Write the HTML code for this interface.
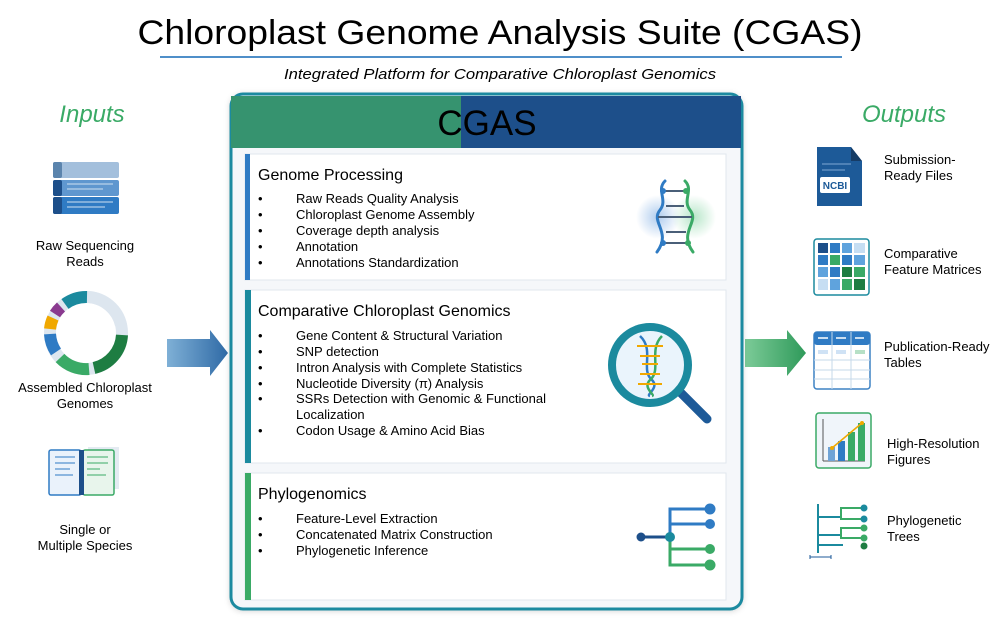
<!DOCTYPE html>
<html><head><meta charset="utf-8"><style>
html,body{margin:0;padding:0;background:#fff;}
svg{display:block;font-family:"Liberation Sans",Arial,sans-serif;}
</style></head><body>
<svg width="1000" height="625" viewBox="0 0 1000 625" xmlns="http://www.w3.org/2000/svg">
<defs>
<linearGradient id="ga" x1="0" x2="1"><stop offset="0" stop-color="#7fb0d6"/><stop offset="1" stop-color="#2f6aa6"/></linearGradient>
<linearGradient id="gb" x1="0" x2="1"><stop offset="0" stop-color="#7ccb98"/><stop offset="1" stop-color="#2f9a5a"/></linearGradient>
<radialGradient id="glowb"><stop offset="0" stop-color="#9cc0ea" stop-opacity=".8"/><stop offset="1" stop-color="#9cc0ea" stop-opacity="0"/></radialGradient>
<radialGradient id="glowg"><stop offset="0" stop-color="#a6e0bc" stop-opacity=".8"/><stop offset="1" stop-color="#a6e0bc" stop-opacity="0"/></radialGradient>
<filter id="sh" x="-5%" y="-5%" width="110%" height="110%"><feDropShadow dx="0" dy="1" stdDeviation="3" flood-color="#000" flood-opacity=".15"/></filter>
</defs>
<!-- Title -->
<text x="500" y="44" text-anchor="middle" font-size="34" textLength="725" lengthAdjust="spacingAndGlyphs">Chloroplast Genome Analysis Suite (CGAS)</text>
<rect x="160" y="56" width="682" height="2" fill="#4f8fc9"/>
<text x="500" y="79" text-anchor="middle" font-size="15" font-style="italic" textLength="432" lengthAdjust="spacingAndGlyphs">Integrated Platform for Comparative Chloroplast Genomics</text>

<!-- Inputs -->
<text x="92" y="122" text-anchor="middle" font-size="24" font-style="italic" fill="#3aaa66">Inputs</text>
<rect x="53" y="162" width="66" height="16" rx="2" fill="#a3bfdc"/><rect x="53" y="162" width="9" height="16" rx="2" fill="#5b84ad"/>
<rect x="53" y="180" width="66" height="16" rx="2" fill="#5f97cf"/><rect x="53" y="180" width="9" height="16" rx="2" fill="#1d4f8a"/>
<line x1="67" y1="184" x2="113" y2="184" stroke="#cfe0f2"/><line x1="67" y1="189" x2="103" y2="189" stroke="#cfe0f2"/>
<rect x="53" y="197" width="66" height="17" rx="2" fill="#2f7bc4"/><rect x="53" y="197" width="9" height="17" rx="2" fill="#1d4f8a"/>
<line x1="67" y1="202" x2="113" y2="202" stroke="#cfe0f2"/><line x1="67" y1="207" x2="105" y2="207" stroke="#cfe0f2"/>
<text x="85" y="250" text-anchor="middle" font-size="13">Raw Sequencing</text>
<text x="85" y="266" text-anchor="middle" font-size="13">Reads</text>
<!-- donut -->
<g transform="translate(86,333)" fill="none" stroke-width="12">
<circle r="36" stroke="#dde6ef"/>
<path d="M3 -36 A36 36 0 0 1 35 -8" stroke="#dde6ef"/>
<path d="M36 2 A36 36 0 0 1 8 35" stroke="#1e7d42"/>
<path d="M3 36 A36 36 0 0 1 -26 25" stroke="#3aaa66"/>
<path d="M-30 19 A36 36 0 0 1 -36 1" stroke="#2f7bc4"/>
<path d="M-36 -4 A36 36 0 0 1 -33 -15" stroke="#f0a800"/>
<path d="M-31 -19 A36 36 0 0 1 -25 -26" stroke="#8a3a8f"/>
<path d="M-21 -29 A36 36 0 0 1 1 -36" stroke="#1b8a9e"/>
</g>
<text x="85" y="392" text-anchor="middle" font-size="13">Assembled Chloroplast</text>
<text x="85" y="408" text-anchor="middle" font-size="13">Genomes</text>
<!-- book -->
<rect x="88" y="447" width="31" height="42" fill="#e4ebf2"/>
<rect x="49" y="450" width="32" height="45" rx="2" fill="#eaf2fb" stroke="#2f7bc4" stroke-width="1.5"/>
<rect x="83" y="450" width="31" height="45" rx="2" fill="#e8f5ec" stroke="#3aaa66" stroke-width="1.5"/>
<rect x="79" y="450" width="5" height="45" fill="#1d4f8a"/>
<g stroke="#2f7bc4"><line x1="55" y1="457" x2="75" y2="457"/><line x1="55" y1="463" x2="75" y2="463"/><line x1="55" y1="469" x2="70" y2="469"/><line x1="55" y1="475" x2="73" y2="475"/></g>
<g stroke="#3aaa66"><line x1="87" y1="457" x2="108" y2="457"/><line x1="87" y1="463" x2="108" y2="463"/><line x1="87" y1="469" x2="100" y2="469"/><line x1="87" y1="475" x2="106" y2="475"/></g>
<text x="85" y="534" text-anchor="middle" font-size="13">Single or</text>
<text x="85" y="550" text-anchor="middle" font-size="13">Multiple Species</text>

<!-- arrows -->
<path d="M167 339 H210 V330 L228 353 L210 376 V367 H167 Z" fill="url(#ga)"/>
<path d="M745 339 H787 V330 L806 353 L787 376 V367 H745 Z" fill="url(#gb)"/>

<!-- Main box -->
<rect x="231" y="94" width="511" height="515" rx="12" fill="#f5f7fa" stroke="#1a8aa0" stroke-width="3" filter="url(#sh)"/>
<rect x="231" y="96" width="230" height="52" fill="#36936f"/>
<rect x="461" y="96" width="280" height="52" fill="#1d4f8a"/>
<text x="487" y="135" text-anchor="middle" font-size="35">CGAS</text>

<!-- Panel 1 -->
<rect x="245" y="154" width="481" height="126" fill="#fff" stroke="#e1e7ee"/>
<rect x="245" y="154" width="5" height="126" fill="#2f7bc4"/>
<text x="258" y="180" font-size="16">Genome Processing</text>
<g font-size="13">
<text x="258" y="203">•</text><text x="296" y="203">Raw Reads Quality Analysis</text>
<text x="258" y="219">•</text><text x="296" y="219">Chloroplast Genome Assembly</text>
<text x="258" y="235">•</text><text x="296" y="235">Coverage depth analysis</text>
<text x="258" y="251">•</text><text x="296" y="251">Annotation</text>
<text x="258" y="267">•</text><text x="296" y="267">Annotations Standardization</text>
</g>
<circle cx="658" cy="217" r="22" fill="url(#glowb)"/><circle cx="694" cy="217" r="22" fill="url(#glowg)"/>
<g fill="none" stroke-width="3" stroke-linecap="round">
<path d="M665 181 C656 190 668 200 660 210 C650 222 672 232 657 252" stroke="#2f7bc4"/>
<path d="M685 181 C694 190 682 200 690 210 C700 222 678 232 693 252" stroke="#3aaa66"/>
</g>
<g stroke="#4a5f78" stroke-width="2"><line x1="662" y1="191" x2="686" y2="191"/><line x1="666" y1="206" x2="684" y2="206"/><line x1="658" y1="217" x2="692" y2="217"/><line x1="666" y1="232" x2="686" y2="232"/><line x1="662" y1="243" x2="688" y2="243"/></g>
<circle cx="663" cy="191" r="3" fill="#2f7bc4"/><circle cx="686" cy="191" r="3" fill="#3aaa66"/><circle cx="663" cy="243" r="3" fill="#2f7bc4"/><circle cx="688" cy="243" r="3" fill="#3aaa66"/>

<!-- Panel 2 -->
<rect x="245" y="290" width="481" height="173" fill="#fff" stroke="#e1e7ee"/>
<rect x="245" y="290" width="6" height="173" fill="#1b8a9e"/>
<text x="258" y="316" font-size="16">Comparative Chloroplast Genomics</text>
<g font-size="13">
<text x="258" y="340">•</text><text x="296" y="340">Gene Content &amp; Structural Variation</text>
<text x="258" y="356">•</text><text x="296" y="356">SNP detection</text>
<text x="258" y="372">•</text><text x="296" y="372">Intron Analysis with Complete Statistics</text>
<text x="258" y="388">•</text><text x="296" y="388">Nucleotide Diversity (π) Analysis</text>
<text x="258" y="403">•</text><text x="296" y="403">SSRs Detection with Genomic &amp; Functional</text>
<text x="296" y="419">Localization</text>
<text x="258" y="435">•</text><text x="296" y="435">Codon Usage &amp; Amino Acid Bias</text>
</g>
<line x1="680" y1="392" x2="707" y2="419" stroke="#1d5a98" stroke-width="9" stroke-linecap="round"/>
<circle cx="650" cy="365" r="38" fill="#eaf4fc" stroke="#1b8a9e" stroke-width="8"/>
<g fill="none" stroke-width="2.5"><path d="M640 336 C655 350 640 370 652 380 C660 388 645 395 650 396" stroke="#2f7bc4"/><path d="M662 336 C648 350 662 370 650 380 C642 388 656 395 652 396" stroke="#3aaa66"/></g>
<g stroke="#f0a800" stroke-width="2"><line x1="637" y1="346" x2="663" y2="346"/><line x1="640" y1="356" x2="660" y2="356"/><line x1="642" y1="364" x2="658" y2="364"/><line x1="640" y1="374" x2="660" y2="374"/><line x1="638" y1="384" x2="662" y2="384"/></g>

<!-- Panel 3 -->
<rect x="245" y="473" width="481" height="127" fill="#fff" stroke="#e1e7ee"/>
<rect x="245" y="473" width="6" height="127" fill="#3aaa66"/>
<text x="258" y="499" font-size="16">Phylogenomics</text>
<g font-size="13">
<text x="258" y="523">•</text><text x="296" y="523">Feature-Level Extraction</text>
<text x="258" y="539">•</text><text x="296" y="539">Concatenated Matrix Construction</text>
<text x="258" y="555">•</text><text x="296" y="555">Phylogenetic Inference</text>
</g>
<g fill="none" stroke-width="3">
<line x1="641" y1="537" x2="670" y2="537" stroke="#1d4f8a"/>
<path d="M710 509 H670 V537" stroke="#2f7bc4"/><line x1="670" y1="524" x2="710" y2="524" stroke="#2f7bc4"/>
<path d="M670 537 V565 H710" stroke="#3aaa66"/><line x1="670" y1="549" x2="710" y2="549" stroke="#3aaa66"/>
</g>
<circle cx="641" cy="537" r="4.5" fill="#1d4f8a"/><circle cx="670" cy="537" r="5" fill="#1b8a9e"/>
<circle cx="710" cy="509" r="5.5" fill="#2f7bc4"/><circle cx="710" cy="524" r="5" fill="#2f7bc4"/>
<circle cx="710" cy="549" r="5" fill="#3aaa66"/><circle cx="710" cy="565" r="5.5" fill="#3aaa66"/>

<!-- Outputs -->
<text x="904" y="122" text-anchor="middle" font-size="24" font-style="italic" fill="#3aaa66">Outputs</text>
<!-- NCBI -->
<path d="M817 147 H851 L862 161 V206 H817 Z" fill="#1d5a98"/>
<path d="M851 147 L862 161 H851 Z" fill="#163c66"/>
<line x1="822" y1="164" x2="851" y2="164" stroke="#7fa8d4"/><line x1="822" y1="170" x2="845" y2="170" stroke="#7fa8d4"/>
<rect x="820" y="177" width="30" height="16" rx="2" fill="#fff"/>
<text x="835" y="189" text-anchor="middle" font-size="10" font-weight="bold" fill="#1d5a98">NCBI</text>
<text x="884" y="164" font-size="13">Submission-</text>
<text x="884" y="180" font-size="13">Ready Files</text>
<!-- matrix -->
<rect x="814" y="239" width="55" height="56" rx="3" fill="#fff" stroke="#1b8a9e" stroke-width="1.5"/>
<g>
<rect x="818" y="243" width="10" height="10" fill="#1d4f8a"/><rect x="830" y="243" width="10" height="10" fill="#2f7bc4"/><rect x="842" y="243" width="10" height="10" fill="#5fa3dd"/><rect x="854" y="243" width="11" height="10" fill="#c6def3"/>
<rect x="818" y="255" width="10" height="10" fill="#2f7bc4"/><rect x="830" y="255" width="10" height="10" fill="#3aaa66"/><rect x="842" y="255" width="10" height="10" fill="#2f7bc4"/><rect x="854" y="255" width="11" height="10" fill="#5fa3dd"/>
<rect x="818" y="267" width="10" height="10" fill="#5fa3dd"/><rect x="830" y="267" width="10" height="10" fill="#2f7bc4"/><rect x="842" y="267" width="10" height="10" fill="#1e7d42"/><rect x="854" y="267" width="11" height="10" fill="#3aaa66"/>
<rect x="818" y="279" width="10" height="11" fill="#c6def3"/><rect x="830" y="279" width="10" height="11" fill="#5fa3dd"/><rect x="842" y="279" width="10" height="11" fill="#3aaa66"/><rect x="854" y="279" width="11" height="11" fill="#1e7d42"/>
</g>
<text x="884" y="258" font-size="13">Comparative</text>
<text x="884" y="274" font-size="13">Feature Matrices</text>
<!-- table -->
<rect x="814" y="332" width="56" height="57" rx="3" fill="#fff" stroke="#3d82c4" stroke-width="1.5"/>
<rect x="814" y="332" width="56" height="13" rx="3" fill="#2f7bc4"/>
<g stroke="#fff" stroke-width="1.5"><line x1="818" y1="338" x2="828" y2="338"/><line x1="836" y1="338" x2="846" y2="338"/><line x1="855" y1="338" x2="864" y2="338"/></g>
<g stroke="#c6d8ea"><line x1="832" y1="332" x2="832" y2="389"/><line x1="851" y1="332" x2="851" y2="389"/><line x1="814" y1="360" x2="870" y2="360"/><line x1="814" y1="370" x2="870" y2="370"/><line x1="814" y1="379" x2="870" y2="379"/></g>
<rect x="818" y="350" width="10" height="4" fill="#cfe2f5"/><rect x="836" y="350" width="10" height="4" fill="#cfe2f5"/><rect x="855" y="350" width="10" height="4" fill="#b6e0c6"/>
<text x="884" y="351" font-size="13">Publication-Ready</text>
<text x="884" y="367" font-size="13">Tables</text>
<!-- chart -->
<rect x="816" y="413" width="55" height="55" rx="3" fill="#f0f5fa" stroke="#3aaa66" stroke-width="1.5"/>
<line x1="823" y1="419" x2="823" y2="461" stroke="#555"/><line x1="823" y1="461" x2="865" y2="461" stroke="#555"/>
<rect x="828" y="447" width="7" height="14" fill="#6fa3d6"/><rect x="838" y="441" width="7" height="20" fill="#2f7bc4"/><rect x="848" y="432" width="7" height="29" fill="#3aaa66"/><rect x="858" y="423" width="7" height="38" fill="#3aaa66"/>
<polyline points="832,448 862,423" stroke="#f0a800" stroke-width="1.5" fill="none"/><circle cx="832" cy="448" r="2" fill="#f0a800"/><circle cx="862" cy="423" r="2" fill="#f0a800"/>
<text x="887" y="448" font-size="13">High-Resolution</text>
<text x="887" y="464" font-size="13">Figures</text>
<!-- tree -->
<g fill="none" stroke-width="2">
<line x1="818" y1="504" x2="818" y2="553" stroke="#1b8a9e"/>
<line x1="818" y1="517" x2="841" y2="517" stroke="#1b8a9e"/>
<line x1="818" y1="535" x2="841" y2="535" stroke="#1b8a9e"/>
<line x1="818" y1="545" x2="843" y2="545" stroke="#1b8a9e"/>
<path d="M864 508 H841 V519 H864" stroke="#3aaa66"/>
<path d="M864 528 H841 V538 H864" stroke="#3aaa66"/>
</g>
<circle cx="864" cy="508" r="3.5" fill="#1b8a9e"/><circle cx="864" cy="519" r="3.5" fill="#1b8a9e"/><circle cx="864" cy="528" r="3.5" fill="#3aaa66"/><circle cx="864" cy="538" r="3.5" fill="#3aaa66"/><circle cx="864" cy="546" r="3.5" fill="#1e7d42"/>
<path d="M810 557 H831 M810 555 V559 M831 555 V559" stroke="#1d5a98" stroke-width="1"/>
<text x="887" y="525" font-size="13">Phylogenetic</text>
<text x="887" y="541" font-size="13">Trees</text>
</svg>
</body></html>
